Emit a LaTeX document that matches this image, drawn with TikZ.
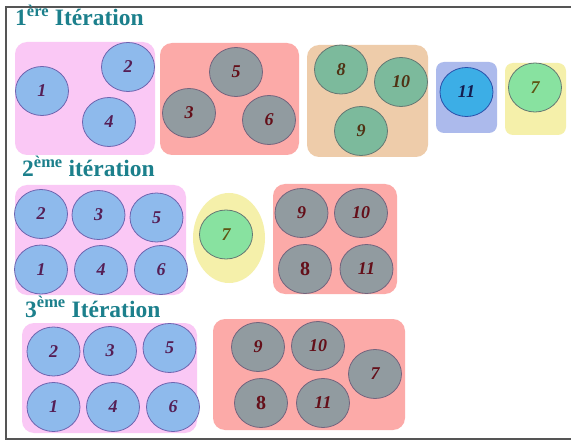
\documentclass[tikz,border=0pt]{standalone}
\usepackage{fontspec}
\setmainfont{Liberation Serif}
\usetikzlibrary{shapes.geometric}

\definecolor{titlecol}{RGB}{28,128,140}
\definecolor{pinkbox}{RGB}{250,200,245}
\definecolor{redbox}{RGB}{252,170,168}
\definecolor{orangebox}{RGB}{238,204,170}
\definecolor{violetbox}{RGB}{172,186,236}
\definecolor{yellowbox}{RGB}{245,240,170}
\definecolor{bluefill}{RGB}{142,186,236}
\definecolor{bluedraw}{RGB}{110,100,175}
\definecolor{grayfill}{RGB}{145,155,160}
\definecolor{graydraw}{RGB}{115,100,125}
\definecolor{tealfill}{RGB}{124,186,156}
\definecolor{tealdraw}{RGB}{100,120,115}
\definecolor{mintfill}{RGB}{136,226,160}
\definecolor{skyfill}{RGB}{60,174,230}
\definecolor{skydraw}{RGB}{40,80,170}
\definecolor{purpletxt}{RGB}{85,30,85}
\definecolor{marontxt}{RGB}{100,15,25}
\definecolor{browntxt}{RGB}{80,50,20}
\definecolor{olivetxt}{RGB}{95,85,20}
\definecolor{navytxt}{RGB}{20,30,80}
\definecolor{framecol}{RGB}{85,85,85}

\tikzset{
  grp/.style={rounded corners=12pt, draw=none},
  elt/.style={ellipse, minimum width=53pt, minimum height=49pt, inner sep=0pt,
    line width=0.8pt, font=\fontsize{18}{18}\selectfont\bfseries\itshape},
  bluecell/.style={elt, fill=bluefill, draw=bluedraw, text=purpletxt},
  graycell/.style={elt, fill=grayfill, draw=graydraw, text=marontxt},
  tealcell/.style={elt, fill=tealfill, draw=tealdraw, text=browntxt},
  mintcell/.style={elt, fill=mintfill, draw=tealdraw, text=olivetxt},
  skycell/.style={elt, fill=skyfill, draw=skydraw, text=navytxt},
  upright/.style={font=\fontsize{20}{20}\selectfont\bfseries},
  heading/.style={anchor=base west, inner sep=0pt, text=titlecol,
    font=\fontsize{23.5}{23.5}\selectfont\bfseries},
}

\begin{document}
\begin{tikzpicture}[x=1pt, y=-1pt]
\useasboundingbox (0,0) rectangle (571,441);
\fill[white] (0,0) rectangle (571,441);

% outer frame (left, top and bottom edges)
\draw[framecol, line width=2pt] (571,7.5) coordinate (ftr) -- (6,7.5) coordinate (ftl)
  -- (6,438.5) coordinate (fbl) -- (571,438.5) coordinate (fbr);

% ---------------- first iteration ----------------
\node[heading] (t1) at (15,26) {1\textsuperscript{ère} Itération};

\fill[grp, pinkbox] (15,42) rectangle (155,155);
\fill[grp, redbox] (160,43) rectangle (299,155);
\fill[grp, orangebox] (307,45) rectangle (428,157);
\fill[grp, violetbox, rounded corners=8pt] (436,62) rectangle (497,133);
\fill[grp, yellowbox, rounded corners=8pt] (505,63) rectangle (566,135);

\node[bluecell] (a1) at (42,91) {1};
\node[bluecell] (a2) at (128,67) {2};
\node[bluecell] (a4) at (109,122) {4};
\node[graycell] (a5) at (236,72) {5};
\node[graycell] (a3) at (189,113) {3};
\node[graycell] (a6) at (269,120) {6};
\node[tealcell] (a8) at (341,69.5) {8};
\node[tealcell] (a10) at (401,82) {10};
\node[tealcell] (a9) at (361,131) {9};
\node[skycell] (a11) at (466.5,92) {11};
\node[mintcell] (a7) at (535,87.5) {7};

% ---------------- second iteration ----------------
\node[heading] (t2) at (22,177) {2\textsuperscript{ème} itération};

\fill[grp, pinkbox] (15,185) rectangle (186,295);
\fill[yellowbox] (229,238) ellipse [x radius=36, y radius=45];
\fill[grp, redbox] (273,184) rectangle (397,294);

\node[bluecell] (b2) at (41,214) {2};
\node[bluecell] (b3) at (98.5,215) {3};
\node[bluecell] (b5) at (156.5,217.5) {5};
\node[bluecell] (b1) at (41,269.5) {1};
\node[bluecell] (b4) at (101,270) {4};
\node[bluecell] (b6) at (161,270) {6};
\node[mintcell] (b7) at (226,234.5) {7};
\node[graycell] (b9) at (301.5,213) {9};
\node[graycell] (b10) at (361,213) {10};
\node[graycell, upright] (b8) at (305,269) {8};
\node[graycell] (b11) at (366.5,269) {11};

% ---------------- third iteration ----------------
\node[heading] (t3) at (25,317) {3\textsuperscript{ème} Itération};

\fill[grp, pinkbox] (22,323) rectangle (197,433);
\fill[grp, redbox] (213,319) rectangle (405,430);

\node[bluecell] (c2) at (53.5,351.5) {2};
\node[bluecell] (c3) at (110,351) {3};
\node[bluecell] (c5) at (169.5,348) {5};
\node[bluecell] (c1) at (53.5,407) {1};
\node[bluecell] (c4) at (113,407) {4};
\node[bluecell] (c6) at (173,407) {6};
\node[graycell] (c9) at (258,347) {9};
\node[graycell] (c10) at (318,346) {10};
\node[graycell] (c7) at (375,374) {7};
\node[graycell, upright] (c8) at (261,403) {8};
\node[graycell] (c11) at (323,403) {11};
\end{tikzpicture}
\end{document}
